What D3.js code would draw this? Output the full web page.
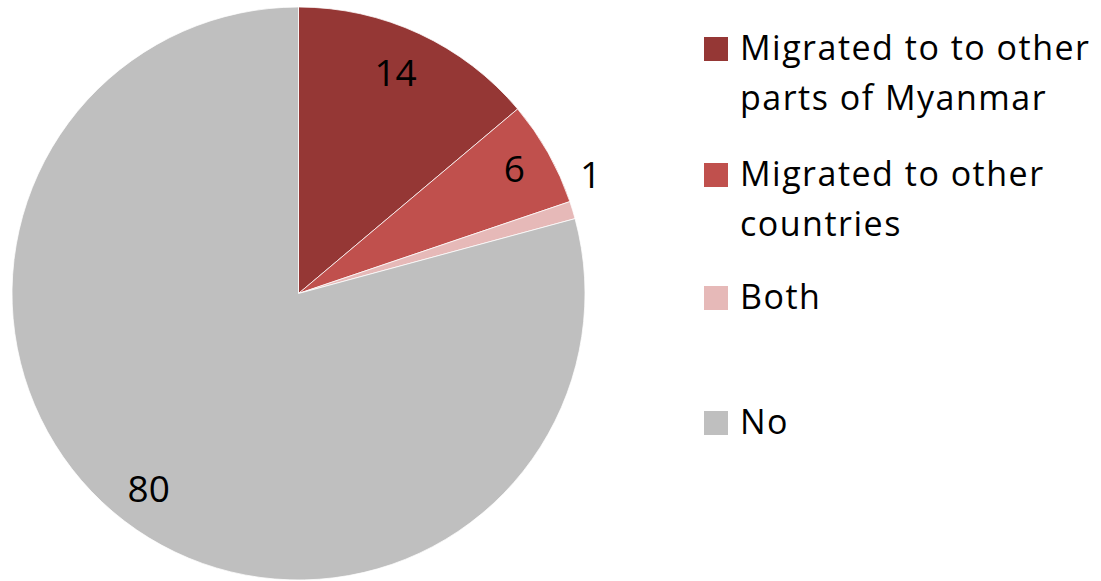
<!DOCTYPE html>
<html>
<head>
<meta charset="utf-8">
<script src="https://cdn.jsdelivr.net/npm/d3@7"></script>
<style>
  html, body { margin: 0; padding: 0; background: #fff; }
  svg { display: block; }
  text { font-family: "Open Sans", "Noto Sans", sans-serif; fill: #000; }
</style>
</head>
<body>
<svg id="chart" width="1101" height="581"></svg>
<script>
// Share of households by migration status
const categories = ["Migrated to to other parts of Myanmar", "Migrated to other countries", "Both", "No"];
const values = [14, 6, 1, 80];
const legendLines = [["Migrated to to other", "parts of Myanmar"], ["Migrated to other", "countries"], ["Both"], ["No"]];
const colors = ["#953735", "#C0504D", "#E6B9B8", "#BFBFBF"];

const svg = d3.select("#chart");
const cx = 298.5, cy = 293.5, R = 286.5;

const data = categories.map((c, i) => ({ name: c, value: values[i], color: colors[i] }));

const pie = d3.pie().value(d => d.value).sort(null);
const arcs = pie(data);
const arc = d3.arc().innerRadius(0).outerRadius(R);

const g = svg.append("g").attr("transform", `translate(${cx},${cy})`);

g.selectAll("path.slice")
  .data(arcs)
  .join("path")
  .attr("class", "slice")
  .attr("d", arc)
  .attr("fill", d => d.data.color)
  .attr("stroke", "#fff")
  .attr("stroke-width", 0.75)
  .attr("stroke-linejoin", "round");

// value labels: inside for larger slices, just outside for the thin one
const labelRadius = [0.84, 0.87, 1.1, 0.86];
const labelAngleShift = [-0.02, -0.01, -0.09, 0];
g.selectAll("text.val")
  .data(arcs)
  .join("text")
  .attr("class", "val")
  .attr("x", (d, i) => {
    const a = (d.startAngle + d.endAngle) / 2 + labelAngleShift[i];
    return Math.sin(a) * R * labelRadius[i];
  })
  .attr("y", (d, i) => {
    const a = (d.startAngle + d.endAngle) / 2 + labelAngleShift[i];
    return -Math.cos(a) * R * labelRadius[i] + 13;
  })
  .attr("text-anchor", "middle")
  .style("font-size", "37px")
  .text(d => d.data.value);

// legend
const legendTop = [37, 163, 286, 411];
const lineGap = 50;
const legend = svg.append("g");
data.forEach((d, i) => {
  legend.append("rect")
    .attr("x", 704).attr("y", legendTop[i])
    .attr("width", 24).attr("height", 24)
    .attr("fill", d.color);
  const t = legend.append("text")
    .attr("x", 740)
    .attr("y", legendTop[i] + 23)
    .style("font-size", "34px")
    .style("letter-spacing", "1.5px");
  legendLines[i].forEach((ln, j) => {
    t.append("tspan").attr("x", 740).attr("dy", j === 0 ? 0 : lineGap).text(ln);
  });
});
</script>
</body>
</html>
